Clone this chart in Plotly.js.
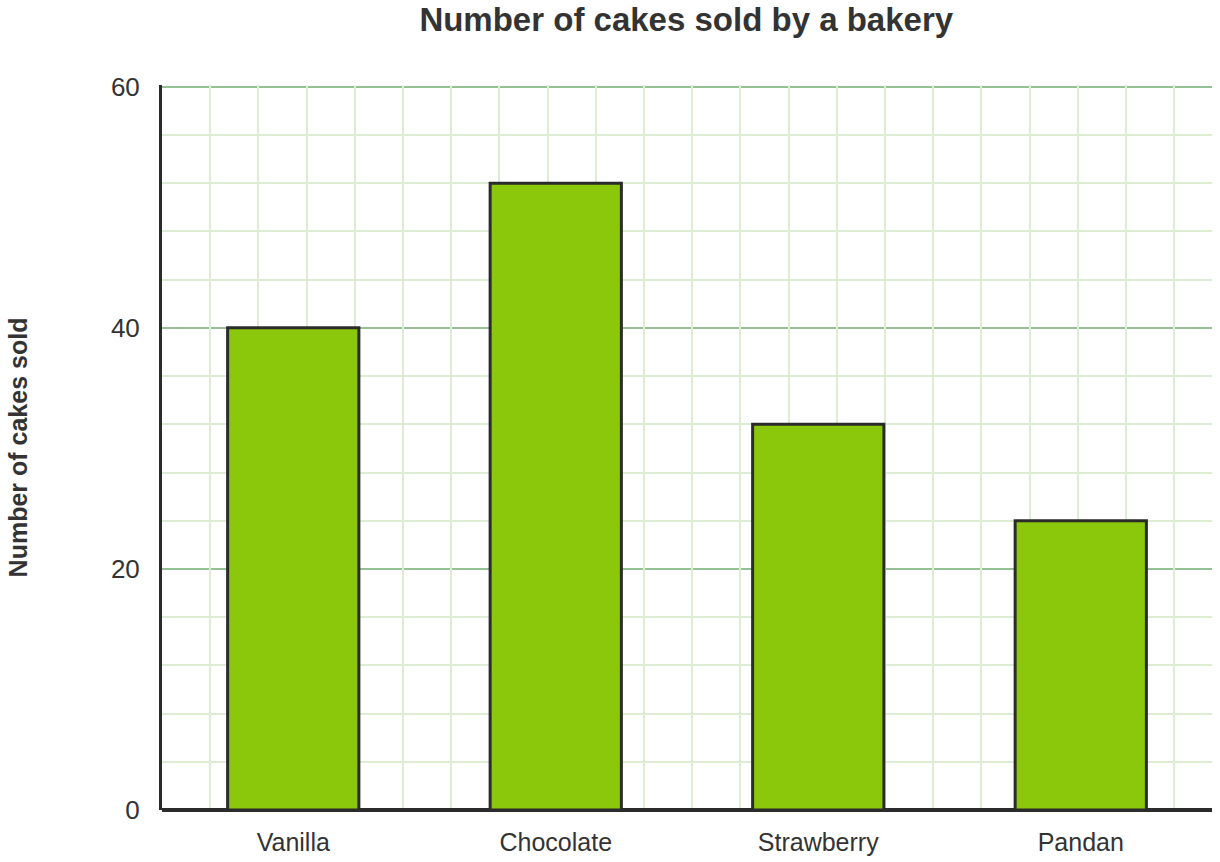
<!DOCTYPE html>
<html>
<head>
<meta charset="utf-8">
<script src="https://cdn.plot.ly/plotly-3.0.1.min.js"></script>
<style>
  html, body { margin: 0; padding: 0; background: #fff; }
  #chart { width: 1220px; height: 862px; }
</style>
</head>
<body>
<div id="chart"></div>
<script>
// cakes sold per flavour
var flavours = ['Vanilla', 'Chocolate', 'Strawberry', 'Pandan']
var cakesSold = [40, 52, 32, 24]
var yTicks = [0, 20, 40, 60]

var bars = {
    type: 'bar',
    x: flavours,
    y: cakesSold,
    marker: { color: '#8bc70a', line: { color: '#2b2b2b', width: 3 } },
    hoverinfo: 'x+y'
}

// dummy trace so the vertical grid axis gets drawn
var gridTrace = {
    x: [0],
    y: [0],
    xaxis: 'x2',
    mode: 'markers',
    marker: { opacity: 0 },
    hoverinfo: 'skip'
}

var layout = {
    width: 1220,
    height: 862,
    margin: { l: 162, r: 8, t: 85, b: 52 },
    paper_bgcolor: '#ffffff',
    plot_bgcolor: '#ffffff',
    font: { family: 'Liberation Sans, Arial, sans-serif', color: '#333333', size: 25 },
    showlegend: false,
    bargap: 0.5,
    title: {
        text: '<b>Number of cakes sold by a bakery</b>',
        font: { size: 33, color: '#333333' },
        x: 0.5625,
        xanchor: 'center',
        y: 0.977,
        yanchor: 'middle'
    },
    xaxis: {
        showgrid: false,
        showline: false,
        zeroline: false,
        ticks: 'outside',
        ticklen: 10,
        tickcolor: 'rgba(0,0,0,0)',
        tickfont: { size: 25 },
        fixedrange: true
    },
    xaxis2: {
        overlaying: 'x',
        anchor: 'y',
        range: [0, 1050],
        tick0: 0,
        dtick: 48.2,
        showgrid: true,
        gridcolor: '#dcedd3',
        gridwidth: 2,
        showticklabels: false,
        ticks: '',
        showline: false,
        zeroline: false,
        fixedrange: true,
        layer: 'below traces'
    },
    yaxis: {
        // a hair above 60 so the top grid line is not dropped
        range: [0, 60.15],
        tickvals: yTicks,
        showgrid: true,
        gridcolor: '#95c095',
        gridwidth: 2,
        minor: { dtick: 4, showgrid: true, gridcolor: '#dcedd3', gridwidth: 2 },
        // the dark base line along 0
        zeroline: true,
        zerolinecolor: '#2b2b2b',
        zerolinewidth: 4,
        showline: true,
        linecolor: '#2b2b2b',
        linewidth: 3,
        ticks: 'outside',
        ticklen: 14,
        tickcolor: 'rgba(0,0,0,0)',
        tickfont: { size: 26 },
        title: { text: '<b>Number of cakes sold</b>', font: { size: 25, color: '#333333' }, standoff: 77 },
        fixedrange: true
    }
}

var config = { responsive: false, displayModeBar: false }

Plotly.newPlot('chart', [gridTrace, bars], layout, config)
</script>
</body>
</html>
